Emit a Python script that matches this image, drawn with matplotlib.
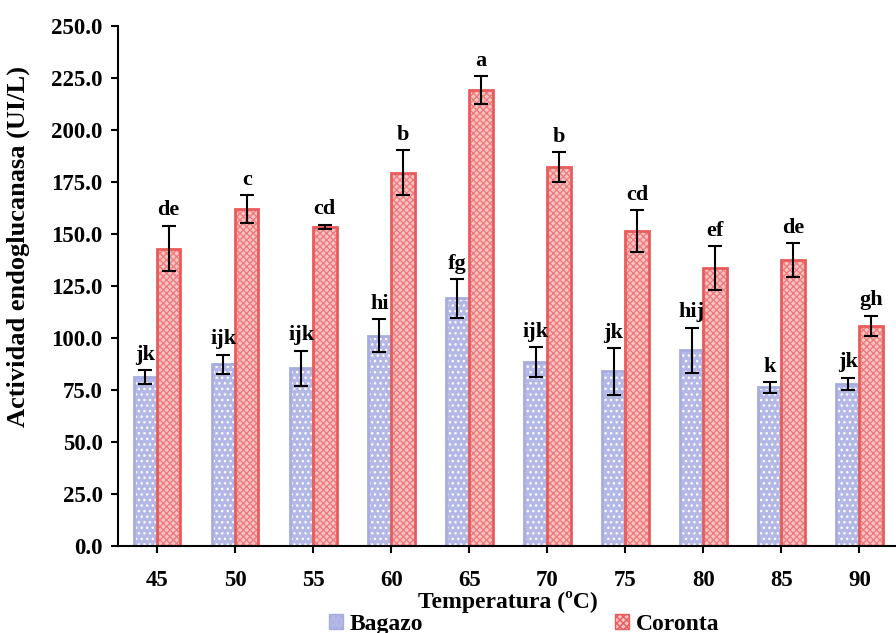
import numpy as np
import matplotlib.pyplot as plt
from matplotlib.patches import Patch

temps = ['45', '50', '55', '60', '65', '70', '75', '80', '85', '90']
bagazo = [81.4, 87.4, 85.4, 101.2, 119.0, 88.6, 84.0, 94.0, 76.3, 78.0]
bagazo_err = [3.3, 4.6, 8.5, 8.0, 9.2, 7.2, 11.2, 11.0, 2.5, 3.0]
coronta = [143.0, 162.0, 153.5, 179.5, 219.2, 182.2, 151.4, 133.6, 137.5, 105.8]
coronta_err = [11.0, 6.5, 1.0, 11.0, 6.8, 7.0, 10.0, 10.5, 8.0, 5.0]
bagazo_lab = ['jk', 'ijk', 'ijk', 'hi', 'fg', 'ijk', 'jk', 'hij', 'k', 'jk']
coronta_lab = ['de', 'c', 'cd', 'b', 'a', 'b', 'cd', 'ef', 'de', 'gh']

plt.rcParams['font.family'] = 'Liberation Serif'
plt.rcParams['font.weight'] = 'bold'
plt.rcParams['hatch.linewidth'] = 1.0

fig = plt.figure(figsize=(8.96, 6.33), dpi=100)
ax = fig.add_axes([0.1317, 0.1374, 0.871, 0.8216])

x = np.arange(len(temps))
w = 0.3

# Bagazo: lavender with white dots
ax.bar(x - w/2, bagazo, w, color='#b3b8e6', edgecolor='white', hatch='...', linewidth=0)
ax.bar(x - w/2, bagazo, w, fill=False, edgecolor='#a7addf', linewidth=2)
# Coronta: pink checker with red border
ax.bar(x + w/2, coronta, w, color='#f9c4c4', edgecolor='#ef7c7c', hatch='xxxxx', linewidth=0)
ax.bar(x + w/2, coronta, w, fill=False, edgecolor='#ea5b5b', linewidth=2)

ax.errorbar(x - w/2, bagazo, yerr=bagazo_err, fmt='none', ecolor='black',
            elinewidth=1.5, capsize=5, capthick=1.5)
ax.errorbar(x + w/2, coronta, yerr=coronta_err, fmt='none', ecolor='black',
            elinewidth=1.5, capsize=5, capthick=1.5)

for i in range(len(temps)):
    ax.text(x[i] - w/2, bagazo[i] + bagazo_err[i] + 2.5, bagazo_lab[i],
            ha='center', va='bottom', fontsize=16, fontweight='bold')
    ax.text(x[i] + w/2, coronta[i] + coronta_err[i] + 2.5, coronta_lab[i],
            ha='center', va='bottom', fontsize=16, fontweight='bold')

ax.set_xlim(-0.5, 9.5)
ax.set_ylim(0, 250)
ax.set_yticks(np.arange(0, 251, 25))
ax.set_yticklabels(['%.1f' % v for v in np.arange(0, 251, 25)])
ax.set_xticks(x)
ax.set_xticklabels(temps)
ax.tick_params(axis='both', direction='out', length=5, width=1.5, labelsize=16.5)
ax.tick_params(axis='x', pad=12)
ax.tick_params(axis='y', pad=6)
for s in ['top', 'right']:
    ax.spines[s].set_visible(False)
for s in ['left', 'bottom']:
    ax.spines[s].set_linewidth(1.5)

ax.set_ylabel('Actividad endoglucanasa (UI/L)', fontsize=19, fontweight='bold')
ax.yaxis.set_label_coords(-0.113, 0.575)
ax.set_xlabel('Temperatura (ºC)', fontsize=17, fontweight='bold', labelpad=0)

handles = [Patch(facecolor='#b3b8e6', edgecolor='#a7addf', hatch='...'),
           Patch(facecolor='#f9c4c4', edgecolor='#ea5b5b', hatch='xxxxx')]
fig.legend(handles, ['Bagazo', 'Coronta'], loc='lower center', ncol=2,
           bbox_to_anchor=(0.585, -0.036), frameon=False, fontsize=17,
           handlelength=0.6, handleheight=0.6, handletextpad=0.3, columnspacing=8.1)

fig.savefig('out.png', dpi=100)
